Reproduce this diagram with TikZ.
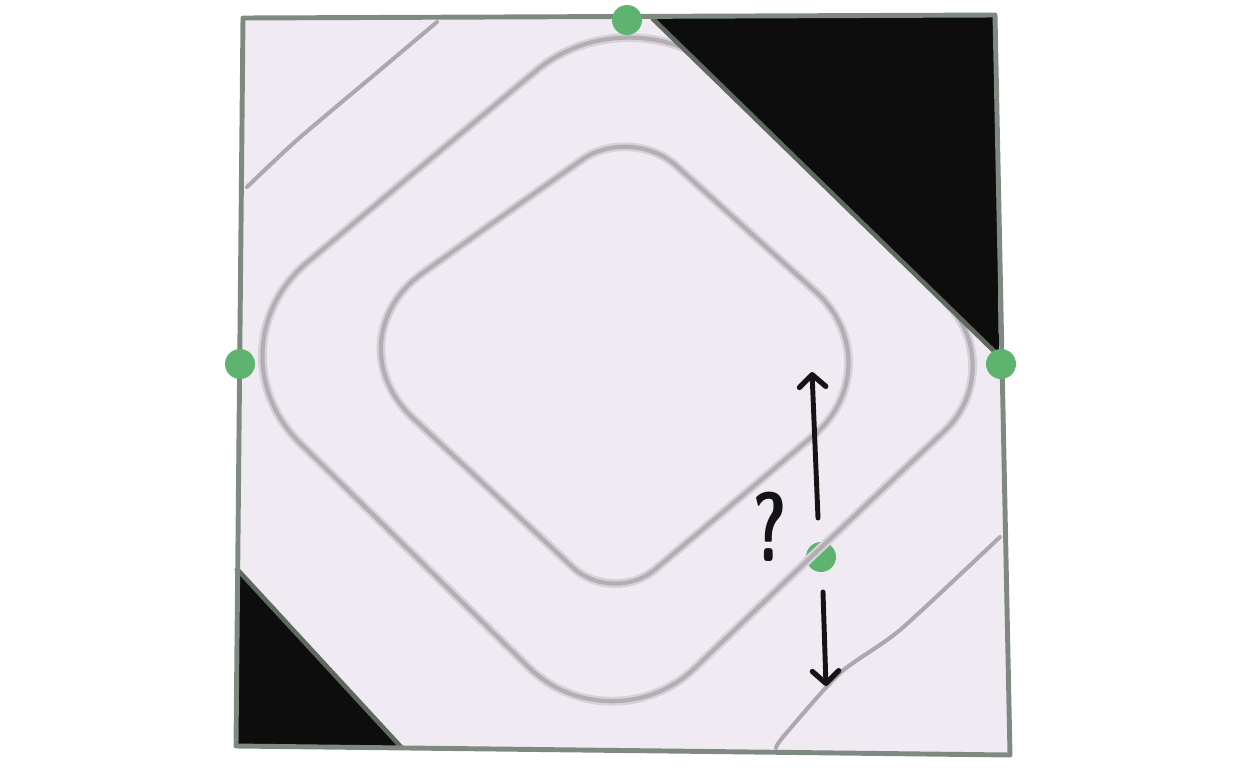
\documentclass[tikz,border=0pt]{standalone}
\usetikzlibrary{arrows.meta}
\definecolor{paper}{HTML}{F0EBF2}
\definecolor{edgegreen}{HTML}{7E8A7F}
\definecolor{hypgreen}{HTML}{5E6A60}
\definecolor{pencilgray}{HTML}{ADA8B0}
\definecolor{halogray}{HTML}{D6D2D8}
\definecolor{ringgray}{HTML}{B3AEB5}
\definecolor{dotgreen}{HTML}{5EB46E}
\definecolor{inkblack}{HTML}{141414}
\begin{document}
\begin{tikzpicture}[x=0.02cm,y=-0.02cm,
  frame/.style={draw=edgegreen,line width=2.8pt,line join=round},
  pencil/.style={draw=pencilgray,line width=2.3pt,line cap=round,line join=round},
  ring/.style={draw=ringgray,line width=2.4pt,preaction={draw=halogray,line width=5pt}},
  shade/.style={fill=black!95},
  dot/.style={circle,fill=dotgreen,inner sep=0pt,minimum size=0.6cm},
  pointer/.style={draw=inkblack,line width=2.8pt,line cap=round,
    -{Straight Barb[length=7pt,width=15pt,line width=3pt,round]}}]

\useasboundingbox (0,0) rectangle (1248,768);

% paper
\fill [paper] (243,18) -- (995,15) -- (1010,755) -- (236,746) -- cycle;

\node [dot] (middot) at (821,557) {};

% outer ring
\draw [ring] (422,166) [rounded corners=2.7cm] -- (640,-16) -- (825,176)
  (825,176) [rounded corners=1.8cm] -- (1010,369) -- (810,558)
  (810,558) [rounded corners=2.3cm] -- (611,748) -- (407,548)
  (407,548) [rounded corners=2.7cm] -- (204,349) -- (422,166);
% inner ring
\draw [ring] (480,232) [rounded corners=1.2cm] -- (631,125) -- (764,245)
  (764,245) [rounded corners=2.2cm] -- (897,365) -- (755,485)
  (755,485) [rounded corners=1.1cm] -- (613,605) -- (471,472)
  (471,472) [rounded corners=2.3cm] -- (329,340) -- (480,232);

% diagonals
\draw [pencil] plot [smooth,tension=0.4] coordinates {(247,187) (297,140) (380,70) (437,22)};
\draw [pencil] plot [smooth,tension=0.4] coordinates {(1000,537) (900,630) (840,673) (783,737) (776,748)};

% corners
\fill [shade] (652,18) -- (995,16) -- (999,356) -- cycle;
\draw [hypgreen,line width=2.6pt] (652,18) -- (999,356);
\fill [shade] (236,568) -- (236,746) -- (402,748) -- cycle;
\draw [hypgreen,line width=2.6pt] (236,568) -- (402,748);

\draw [frame] (243,18) -- (995,15) -- (1010,755) -- (236,746) -- cycle;

\node [dot] (topdot) at (627,20) {};
\node [dot] (leftdot) at (240,364) {};
\node [dot] (rightdot) at (1001,364) {};

\coordinate (uptail) at (818,518);
\coordinate (uphead) at (812,372);
\coordinate (downtail) at (823,592);
\coordinate (downhead) at (826,686);
\draw [pointer] (uptail) -- (uphead);
\draw [pointer] (downtail) -- (downhead);

\node [inkblack] (query) at (770,527) {\scalebox{0.68}[1]{\fontsize{56}{56}\selectfont\sffamily\bfseries ?}};
\end{tikzpicture}
\end{document}
